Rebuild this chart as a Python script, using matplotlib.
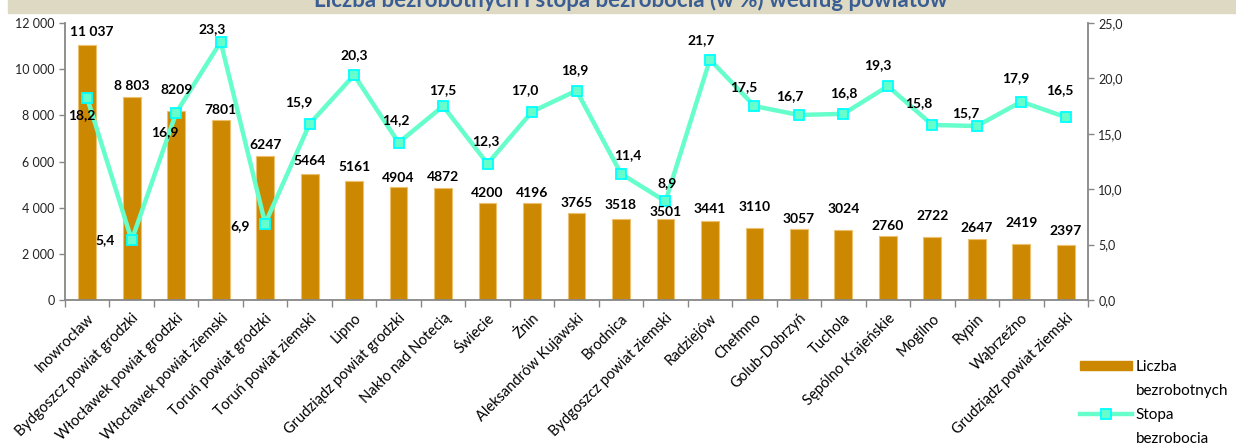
import numpy as np
import matplotlib
matplotlib.use("Agg")
import matplotlib.pyplot as plt
from matplotlib.patches import Rectangle, Patch
from matplotlib.ticker import FixedLocator, FuncFormatter

plt.rcParams['font.family'] = ['Lato', 'DejaVu Sans']

# data
powiaty = ["Inowrocław", "Bydgoszcz powiat grodzki", "Włocławek powiat grodzki",
           "Włocławek powiat ziemski", "Toruń powiat grodzki", "Toruń powiat ziemski",
           "Lipno", "Grudziądz powiat grodzki", "Nakło nad Notecią", "Świecie", "Żnin",
           "Aleksandrów Kujawski", "Brodnica", "Bydgoszcz powiat ziemski", "Radziejów",
           "Chełmno", "Golub-Dobrzyń", "Tuchola", "Sępólno Krajeńskie", "Mogilno",
           "Rypin", "Wąbrzeźno", "Grudziądz powiat ziemski"]
liczba_bezrobotnych = [11037, 8803, 8209, 7801, 6247, 5464, 5161, 4904, 4872, 4200,
                       4196, 3765, 3518, 3501, 3441, 3110, 3057, 3024, 2760, 2722,
                       2647, 2419, 2397]
stopa_bezrobocia = [18.2, 5.4, 16.9, 23.3, 6.9, 15.9, 20.3, 14.2, 17.5, 12.3, 17.0,
                    18.9, 11.4, 8.9, 21.7, 17.5, 16.7, 16.8, 19.3, 15.8, 15.7, 17.9, 16.5]

title = "Liczba bezrobotnych i stopa bezrobocia (w %) według powiatów"

# label placement (offset points from the mark)
rate_offsets = [(-4, -12), (-19, 0), (-8, -14), (-6, 9), (-18, -2), (-8, 16),
                (0, 14.5), (-2, 16.5), (0, 11.5), (-1, 16), (-5.5, 15.5), (-1, 15),
                (5, 13.5), (1.5, 13.5), (-6.5, 14), (-7.5, 14), (-6.5, 13.5), (0, 15),
                (-7, 15), (-10, 15.5), (-8, 9.5), (-4, 17), (-4, 19.5)]
count_dy = [9.5, 8, 15, 7, 8, 9, 10, 6.5, 7.5, 7.5, 7.5, 7.5, 10, 5, 8, 15, 7.5, 15,
            7.5, 15, 7.5, 15, 10]

BAR_COLOR = "#CC8800"
LINE_COLOR = "#66FFCC"
GRAY = "#878787"

fig = plt.figure(figsize=(12.36, 4.44), dpi=100)
ax = fig.add_axes([65 / 1236, 1 - 300 / 444, (1088 - 65) / 1236, (300 - 23) / 444])

# title band, the text is partly cut off at the top like in the source
fig.patches.append(Rectangle((8 / 1236, 1 - 13 / 444), 1, 13 / 444,
                             transform=fig.transFigure, color="#DDD9C3", zorder=0))
fig.text(0.51, 1 - 7 / 444, title, ha="center", va="baseline", fontsize=16,
         fontweight="bold", color="#3A5D93")

x = np.arange(len(powiaty))
ax.bar(x, liczba_bezrobotnych, width=0.4, color=BAR_COLOR, edgecolor="#EDC070",
       linewidth=0.8, zorder=2)

ax.set_xlim(-0.5, len(powiaty) - 0.5)
ax.set_ylim(0, 12000)
ax.yaxis.set_major_locator(FixedLocator(np.arange(0, 12001, 2000)))
ax.yaxis.set_major_formatter(FuncFormatter(lambda v, p: f"{int(v):,}".replace(",", " ")))

ax2 = ax.twinx()
ax2.plot(x, stopa_bezrobocia, color=LINE_COLOR, lw=3.2, marker="s", markersize=7.5,
         markerfacecolor=LINE_COLOR, markeredgecolor="#00FFFF", markeredgewidth=1.3,
         zorder=3)
ax2.set_ylim(0, 25)
ax2.yaxis.set_major_locator(FixedLocator(np.arange(0, 25.1, 5)))
ax2.yaxis.set_major_formatter(FuncFormatter(lambda v, p: f"{v:.1f}".replace(".", ",")))

# bar values, drawn on ax2 so they sit above the line
for i, v in enumerate(liczba_bezrobotnych):
    txt = f"{v:,}".replace(",", " ") if v > 8500 else str(v)
    dx = 3 if i == 0 else 0
    ax2.annotate(txt, (i, v), xycoords=ax.transData, xytext=(dx, count_dy[i]),
                 textcoords="offset points", ha="center", va="center",
                 fontsize=10, fontweight="bold", zorder=6)

for i, v in enumerate(stopa_bezrobocia):
    dx, dy = rate_offsets[i]
    ax2.annotate(f"{v:.1f}".replace(".", ","), (i, v), xytext=(dx, dy),
                 textcoords="offset points", ha="center", va="center",
                 fontsize=10, fontweight="bold", zorder=6)

# axes styling
for a in (ax, ax2):
    a.spines["top"].set_visible(False)
    for s in ("left", "right", "bottom"):
        a.spines[s].set_color(GRAY)
        a.spines[s].set_linewidth(1.3)
ax.spines["right"].set_visible(False)
ax2.spines["left"].set_visible(False)
ax2.spines["bottom"].set_visible(False)

ax.tick_params(axis="y", colors=GRAY, length=4, width=1, labelsize=9, labelcolor="#222222")
ax2.tick_params(axis="y", colors=GRAY, length=4, width=1, labelsize=9, labelcolor="#222222")

ax.set_xticks(x)
ax.set_xticklabels(powiaty, rotation=45, ha="right", rotation_mode="anchor", fontsize=10.5)
ax.tick_params(axis="x", which="major", length=0, pad=8)
ax.set_xticks(np.arange(-0.5, len(powiaty), 1), minor=True)
ax.tick_params(axis="x", which="minor", length=5, width=1, color=GRAY)

# legend: each label is split in two rows so the key sits beside the first row
bar_key = Patch(facecolor=BAR_COLOR, edgecolor=BAR_COLOR)
line_key = plt.Line2D([], [], color=LINE_COLOR, lw=3.2, marker="s", markersize=7.5,
                      markerfacecolor=LINE_COLOR, markeredgecolor="#00FFFF",
                      markeredgewidth=1.3)
blank = Patch(facecolor="none", edgecolor="none")
fig.legend([bar_key, blank, line_key, blank],
           ["Liczba", "bezrobotnych", "Stopa", "bezrobocia"],
           loc="upper left", bbox_to_anchor=(1080 / 1236, 1 - 360 / 444),
           frameon=False, fontsize=11, handlelength=3.4, handleheight=0.6,
           handletextpad=0.25, labelspacing=0.65, borderpad=0, borderaxespad=0)

fig.savefig("out.png", dpi=100)
